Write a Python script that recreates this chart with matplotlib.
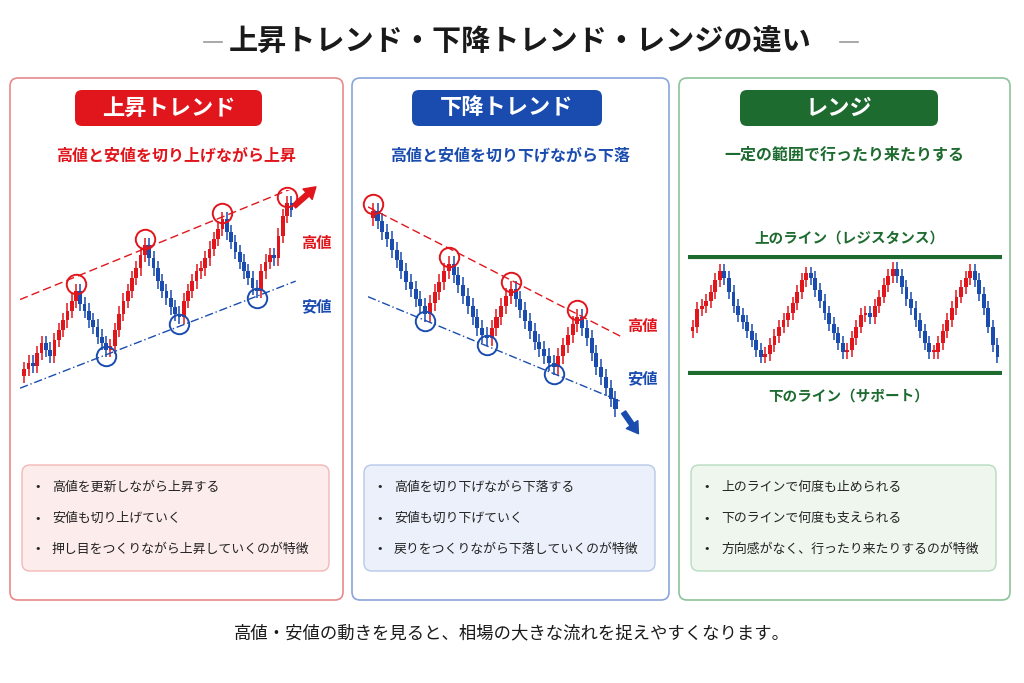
import matplotlib
matplotlib.use("Agg")
import matplotlib.pyplot as plt
from matplotlib.patches import FancyBboxPatch
import numpy as np

plt.rcParams['font.family'] = ['Noto Sans CJK JP', 'DejaVu Sans']

title = "上昇トレンド・下降トレンド・レンジの違い"
headers = ["上昇トレンド", "下降トレンド", "レンジ"]
subtitles = ["高値と安値を切り上げながら上昇", "高値と安値を切り下げながら下落", "一定の範囲で行ったり来たりする"]
bullets = [
    ["高値を更新しながら上昇する", "安値も切り上げていく", "押し目をつくりながら上昇していくのが特徴"],
    ["高値を切り下げながら下落する", "安値も切り下げていく", "戻りをつくりながら下落していくのが特徴"],
    ["上のラインで何度も止められる", "下のラインで何度も支えられる", "方向感がなく、行ったり来たりするのが特徴"],
]
footer = "高値・安値の動きを見ると、相場の大きな流れを捉えやすくなります。"

up_close = [10,14,12,20,26,22,18,28,34,40,46,52,58,50,46,40,36,30,26,22,24,34,44,52,58,66,72,80,86,78,72,64,58,54,48,44,42,52,58,64,70,72,78,84,90,96,102,94,88,82,76,70,66,60,58,70,76,80,78,92,104,112,108]
up_peaks = [12, 28, 46, 61]
up_troughs = [19, 36, 54]

down_close = [100,94,88,84,78,72,66,60,56,50,46,42,48,54,60,66,70,64,58,52,46,40,34,30,28,34,40,46,52,56,50,44,38,32,26,22,18,14,12,18,24,30,36,40,34,28,20,12,6,0,-6,-12]
down_peaks = [0, 16, 29, 43]
down_troughs = [11, 24, 38]

range_close = [40,55,58,62,70,80,88,82,70,58,50,44,36,28,20,14,16,24,32,40,46,52,60,70,80,86,82,72,62,52,42,34,26,18,20,30,40,50,52,48,58,66,76,84,90,84,74,64,56,46,36,26,18,18,26,36,46,56,66,74,82,88,80,68,56,40,24,14]

RED = "#e0161c"; BLUE = "#1a4cb0"; GREEN = "#1e6b30"
W, H = 1024, 683
fig = plt.figure(figsize=(W/100, H/100), dpi=100)
ax0 = fig.add_axes([0, 0, 1, 1]); ax0.set_xlim(0, W); ax0.set_ylim(H, 0); ax0.axis('off')

ax0.text(W/2+8, 42, title, ha='center', va='center', fontsize=21, fontweight='bold', color='#1a1a1a')
ax0.plot([204, 222], [42, 42], color='#999', lw=1.2)
ax0.plot([840, 858], [42, 42], color='#999', lw=1.2)

panels = [(10, 343, RED, "#e88a8a", "#fdecec", "#f2b8b8"),
          (352, 669, BLUE, "#8aa6dc", "#ebf0fa", "#b8c8ea"),
          (679, 1010, GREEN, "#8cc49a", "#eef6ee", "#b8dcc0")]
pills = [(75, 262), (412, 602), (740, 938)]
for i, (x0, x1, col, border, fill, fborder) in enumerate(panels):
    ax0.add_patch(FancyBboxPatch((x0, 78), x1-x0, 522, boxstyle="round,pad=0,rounding_size=8",
                                 fc='white', ec=border, lw=1.2))
    px0, px1 = pills[i]
    ax0.add_patch(FancyBboxPatch((px0, 90), px1-px0, 36, boxstyle="round,pad=0,rounding_size=7",
                                 fc=col, ec='none'))
    ax0.text((px0+px1)/2, 108, headers[i], ha='center', va='center', fontsize=16, fontweight='bold', color='white')
    ax0.text((x0+x1)/2, 155, subtitles[i], ha='center', va='center', fontsize=11.5, fontweight='bold', color=col)
    bx0, bx1 = x0+12, x1-14
    ax0.add_patch(FancyBboxPatch((bx0, 465), bx1-bx0, 106, boxstyle="round,pad=0,rounding_size=8",
                                 fc=fill, ec=fborder, lw=1))
    for j, b in enumerate(bullets[i]):
        y = 487 + j*31
        ax0.text(bx0+13, y, "•", ha='left', va='center', fontsize=9.5, color='#222')
        ax0.text(bx0+30, y, b, ha='left', va='center', fontsize=9.3, color='#222')

ax0.text(W/2, 633, footer, ha='center', va='center', fontsize=12.5, color='#1a1a1a')

def inset(x0, y0, x1, y1):
    a = fig.add_axes([x0/W, 1-y1/H, (x1-x0)/W, (y1-y0)/H])
    a.axis('off')
    return a

def candles(a, closes, wick=4.5):
    opens = [closes[0]-4] + closes[:-1]
    for k, (o, c) in enumerate(zip(opens, closes)):
        col = RED if c >= o else BLUE
        lo, hi = min(o, c), max(o, c)
        a.vlines(k, lo-wick, hi+wick, color=col, lw=1.1)
        a.bar(k, max(hi-lo, 2), bottom=lo, width=0.85, color=col)

def trend(a, closes, peaks, troughs, xl):
    xs = np.array(xl)
    for idx, col in [(peaks, RED), (troughs, BLUE)]:
        pts = [closes[k]+(4 if col == RED else -4) for k in idx]
        p = np.polyfit(idx, pts, 1)
        a.plot(xs, np.polyval(p, xs), ls=(0, (6, 3)) if col == RED else (0, (6, 2, 1, 2)), color=col, lw=1)
        a.plot(idx, pts, 'o', ms=14, mfc='none', mec=col, mew=1.4, clip_on=False)

# Uptrend
a1 = inset(20, 190, 300, 405)
candles(a1, up_close)
a1.set_xlim(-1, len(up_close)+1); a1.set_ylim(-12, 120)
trend(a1, up_close, up_peaks, up_troughs, [-1, len(up_close)])
ax0.annotate("", xy=(318, 185), xytext=(292, 208), arrowprops=dict(arrowstyle="simple,head_width=1.0,head_length=0.8,tail_width=0.35", color=RED))
ax0.text(316, 243, "高値", color=RED, fontsize=11, fontweight='bold', ha='center', va='center')
ax0.text(316, 306, "安値", color=BLUE, fontsize=11, fontweight='bold', ha='center', va='center')

# Downtrend
a2 = inset(368, 200, 625, 420)
candles(a2, down_close)
a2.set_xlim(-1, len(down_close)+1); a2.set_ylim(-18, 106)
trend(a2, down_close, down_peaks, down_troughs, [-1, len(down_close)])
ax0.annotate("", xy=(640, 436), xytext=(622, 410), arrowprops=dict(arrowstyle="simple,head_width=1.0,head_length=0.8,tail_width=0.35", color=BLUE))
ax0.text(642, 326, "高値", color=RED, fontsize=11, fontweight='bold', ha='center', va='center')
ax0.text(642, 378, "安値", color=BLUE, fontsize=11, fontweight='bold', ha='center', va='center')

# Range
a3 = inset(688, 255, 1002, 375)
candles(a3, range_close, wick=6)
a3.set_xlim(-1, len(range_close)); a3.set_ylim(-2, 102)
a3.axhline(100, color=GREEN, lw=3)
a3.axhline(0, color=GREEN, lw=3)
ax0.text(849, 238, "上のライン（レジスタンス）", color=GREEN, fontsize=10.5, fontweight='bold', ha='center', va='center')
ax0.text(849, 396, "下のライン（サポート）", color=GREEN, fontsize=10.5, fontweight='bold', ha='center', va='center')

fig.savefig("out.png", dpi=100)
